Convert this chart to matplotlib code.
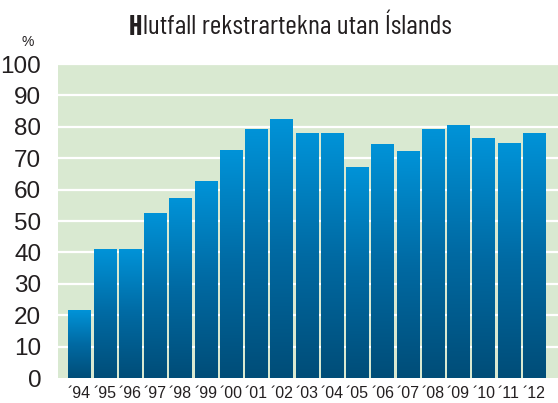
import matplotlib
matplotlib.use("Agg")
import matplotlib.pyplot as plt
import numpy as np
from matplotlib.colors import LinearSegmentedColormap

years = ["´94", "´95", "´96", "´97", "´98", "´99", "´00", "´01", "´02", "´03",
         "´04", "´05", "´06", "´07", "´08", "´09", "´10", "´11", "´12"]
values = [21.5, 41, 41, 52.5, 57.2, 62.7, 72.5, 79, 82.3, 77.8,
          77.8, 67.2, 74.5, 72, 79.2, 80.5, 76.4, 74.8, 78]
yticks = [0, 10, 20, 30, 40, 50, 60, 70, 80, 90, 100]
title_bold = "H"
title_rest = "lutfall rekstrartekna utan Íslands"

title_font = ["Barlow Condensed", "DejaVu Sans"]

fig = plt.figure(figsize=(5.58, 4.03), dpi=100)
ax = fig.add_axes([0.104, 0.062, 0.896, 0.779])
ax.set_facecolor("#d9e9d1")

for y in yticks[1:]:
    ax.axhline(y, color="white", lw=1.6, zorder=1)

cmap = LinearSegmentedColormap.from_list("g", ["#004d78", "#006aa3", "#0093d8"])
grad = np.linspace(0, 1, 256).reshape(-1, 1)
w = 0.88
for i, v in enumerate(values):
    ax.imshow(grad, cmap=cmap, origin="lower", aspect="auto",
              extent=(i - w / 2, i + w / 2, 0, v), zorder=2, interpolation="bilinear")
ax.set_xlim(-0.85, len(values) - 0.05)
ax.set_ylim(0, 100)

for s in ax.spines.values():
    s.set_visible(False)
ax.set_yticks(yticks)
ax.set_yticklabels([str(t) for t in yticks], fontsize=17.5, color="#231f20",
                   fontfamily="Liberation Sans")
ax.tick_params(axis="y", length=0, pad=12)
ax.set_xticks(range(len(years)))
ax.set_xticklabels(years, fontsize=11.5, color="#231f20", fontfamily="Liberation Sans")
ax.tick_params(axis="x", length=0, pad=6)

fig.text(0.05, 0.895, "%", fontsize=10, color="#231f20", ha="center", va="center",
         fontfamily="Liberation Sans")

# title with bold first letter
fig.canvas.draw()
r = fig.canvas.get_renderer()
tb = fig.text(0, 0.933, title_bold, fontsize=20, fontweight="bold", color="#231f20",
              family=title_font, va="center")
tr = fig.text(0, 0.933, title_rest, fontsize=20, fontweight="normal", color="#231f20",
              family=title_font, va="center")
wb = tb.get_window_extent(r).width
wr = tr.get_window_extent(r).width
total = wb + wr
x0 = 290 - total / 2
tb.set_x(x0 / fig.bbox.width)
tr.set_x((x0 + wb + 0.5) / fig.bbox.width)

fig.savefig("out.png", dpi=100)
